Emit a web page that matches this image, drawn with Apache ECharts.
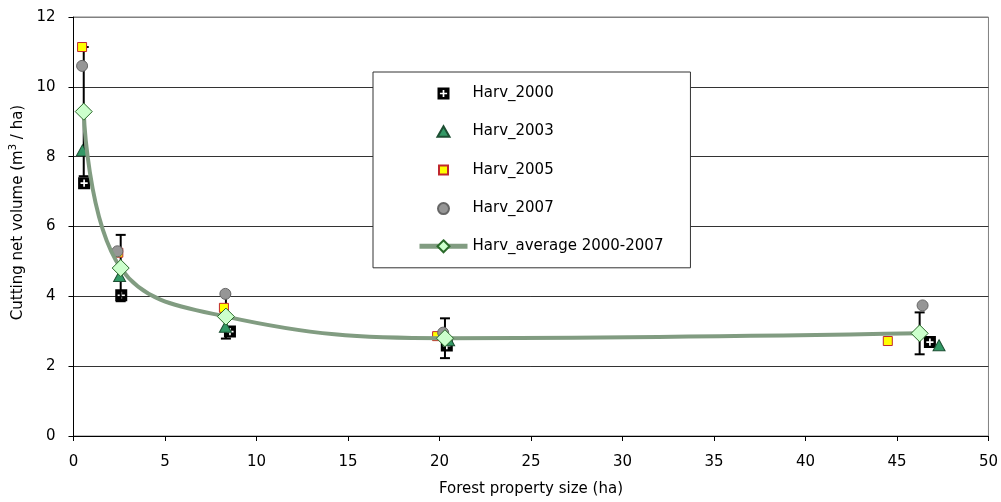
<!DOCTYPE html>
<html>
<head>
<meta charset="utf-8">
<title>Cutting net volume by forest property size</title>
<script src="https://cdn.jsdelivr.net/npm/echarts@6/dist/echarts.min.js"></script>
<style>
  html, body { margin: 0; padding: 0; background: #fff; }
  #chart { width: 1001px; height: 502px; }
</style>
</head>
<body>
<div id="chart"></div>
<script>
// Harvest volume per property-size class, one array pair per survey year
const x2000 = [0.58, 2.61, 8.55, 20.4, 46.8];
const y2000 = [7.24, 4.03, 2.99, 2.59, 2.69];

const x2003 = [0.49, 2.52, 8.30, 20.5, 47.3];
const y2003 = [8.18, 4.58, 3.13, 2.74, 2.60];

const x2005 = [0.47, 2.45, 8.22, 19.87, 44.5];
const y2005 = [11.14, 5.25, 3.67, 2.86, 2.72];

const x2007 = [0.47, 2.40, 8.30, 20.2, 46.4];
const y2007 = [10.6, 5.29, 4.07, 2.96, 3.74];

// Average over 2000-2007 with its standard deviation
const xAvg = [0.56, 2.58, 8.33, 20.3, 46.24];
const yAvg = [9.29, 4.81, 3.42, 2.80, 2.94];
const errAvg = [1.85, 0.95, 0.63, 0.57, 0.60];

const seriesNames = ['Harv_2000', 'Harv_2003', 'Harv_2005', 'Harv_2007', 'Harv_average 2000-2007'];
const xTicks = { min: 0, max: 50, interval: 5 };
const yTicks = { min: 0, max: 12, interval: 2 };

const FONT = 'DejaVu Sans';
const pts = (xs, ys) => xs.map((x, i) => [x, ys[i]]);

// black square with a white plus cut out (opposite winding makes the hole)
const plusSquare = 'path://M0,0H10V10H0Z' +
  'M4.3,2V4.3H2V5.7H4.3V8H5.7V5.7H8V4.3H5.7V2Z';

// legend icons: the bare moves at both ends pad the box so each glyph keeps its own size
const legendIcons = [
  'path://M-1.25,-1.25M0,0H10V10H0ZM4.3,2V4.3H2V5.7H4.3V8H5.7V5.7H8V4.3H5.7V2ZM11.25,11.25',
  'path://M0,0M7.5,2.5L13.5,13H1.5ZM15,15',
  'path://M0,0M3,3H12V12H3ZM15,15',
  'path://M0,0M2,7.5A5.5,5.5,0,1,1,13,7.5A5.5,5.5,0,1,1,2,7.5ZM15,15'
];

const chart = echarts.init(document.getElementById('chart'), null, { renderer: 'canvas' });

chart.setOption({
  animation: false,
  backgroundColor: '#ffffff',
  textStyle: { fontFamily: FONT },
  grid: {
    left: 72, right: 11, top: 17, bottom: 64,
    show: true, borderColor: '#808080', borderWidth: 1, backgroundColor: '#ffffff'
  },
  legend: {
    orient: 'vertical',
    left: 373, top: 72,
    padding: [14, 27, 14, 44],
    itemWidth: 48, itemHeight: 15, itemGap: 21.7,
    symbolKeepAspect: true,
    backgroundColor: '#ffffff',
    borderColor: '#333333', borderWidth: 1, borderRadius: 0,
    textStyle: { fontFamily: FONT, fontSize: 15, color: '#000000', lineHeight: 15 },
    data: [
      { name: seriesNames[0], icon: legendIcons[0] },
      { name: seriesNames[1], icon: legendIcons[1] },
      { name: seriesNames[2], icon: legendIcons[2] },
      { name: seriesNames[3], icon: legendIcons[3] },
      { name: seriesNames[4], lineStyle: { width: 5, color: '#819c81' } }
    ]
  },
  xAxis: {
    type: 'value',
    min: xTicks.min, max: xTicks.max, interval: xTicks.interval,
    name: 'Forest property size (ha)',
    nameLocation: 'middle', nameGap: 46,
    nameTextStyle: { fontFamily: FONT, fontSize: 15, color: '#000000' },
    axisLine: { show: true, onZero: false, lineStyle: { color: '#000000', width: 1 } },
    axisTick: { show: true, inside: false, length: 5, lineStyle: { color: '#000000' } },
    axisLabel: { fontFamily: FONT, fontSize: 15, color: '#000000', margin: 19 },
    splitLine: { show: false }
  },
  yAxis: {
    type: 'value',
    min: yTicks.min, max: yTicks.max, interval: yTicks.interval,
    name: 'Cutting net volume (m{sup|3} / ha)',
    nameLocation: 'middle', nameGap: 44,
    nameTextStyle: {
      fontFamily: FONT, fontSize: 15, color: '#000000',
      padding: [0, 0, 0, 28],
      rich: { sup: { fontFamily: FONT, fontSize: 10, color: '#000000', padding: [0, 0, 10, 0] } }
    },
    axisLine: { show: true, onZero: false, lineStyle: { color: '#000000', width: 1 } },
    axisTick: { show: true, inside: false, length: 5, lineStyle: { color: '#000000' } },
    axisLabel: { fontFamily: FONT, fontSize: 15, color: '#000000', margin: 18 },
    splitLine: {
      show: true,
      lineStyle: { color: ['#333333', '#333333', '#333333', '#333333', '#333333', '#333333', '#808080'], width: 1 }
    }
  },
  series: [
    {
      // standard deviation bars around the average
      type: 'custom',
      name: 'sd',
      z: 1,
      data: xAvg.map((x, i) => [x, yAvg[i] - errAvg[i], yAvg[i] + errAvg[i]]),
      encode: { x: 0, y: [1, 2] },
      renderItem: function (params, api) {
        const lo = api.coord([api.value(0), api.value(1)]);
        const hi = api.coord([api.value(0), api.value(2)]);
        const half = 5;
        const st = { stroke: '#000000', lineWidth: 2 };
        return {
          type: 'group',
          children: [
            { type: 'line', shape: { x1: lo[0], y1: lo[1], x2: hi[0], y2: hi[1] }, style: st },
            { type: 'line', shape: { x1: hi[0] - half, y1: hi[1], x2: hi[0] + half, y2: hi[1] }, style: st },
            { type: 'line', shape: { x1: lo[0] - half, y1: lo[1], x2: lo[0] + half, y2: lo[1] }, style: st }
          ]
        };
      },
      silent: true
    },
    {
      name: seriesNames[0], type: 'scatter', z: 2,
      symbol: plusSquare, symbolSize: 12,
      itemStyle: { color: '#000000', borderWidth: 0, opacity: 1 },
      data: pts(x2000, y2000)
    },
    {
      name: seriesNames[1], type: 'scatter', z: 2,
      symbol: 'triangle', symbolSize: [12, 11],
      itemStyle: { color: '#339966', borderColor: '#1d4f33', borderWidth: 1, opacity: 1 },
      data: pts(x2003, y2003)
    },
    {
      name: seriesNames[2], type: 'scatter', z: 2,
      symbol: 'rect', symbolSize: 9,
      itemStyle: { color: '#ffff00', borderColor: '#c0282d', borderWidth: 1, opacity: 1 },
      data: pts(x2005, y2005)
    },
    {
      name: seriesNames[3], type: 'scatter', z: 2,
      symbol: 'circle', symbolSize: 11,
      itemStyle: { color: '#969696', borderColor: '#666666', borderWidth: 1, opacity: 1 },
      data: pts(x2007, y2007)
    },
    {
      name: seriesNames[4], type: 'line', z: 3,
      smooth: 0.4,
      symbol: 'diamond', symbolSize: 17,
      showAllSymbol: true,
      lineStyle: { color: '#819c81', width: 4 },
      itemStyle: { color: '#ccffcc', borderColor: '#2a6a2a', borderWidth: 1, opacity: 1 },
      data: pts(xAvg, yAvg)
    }
  ]
});
</script>
</body>
</html>
